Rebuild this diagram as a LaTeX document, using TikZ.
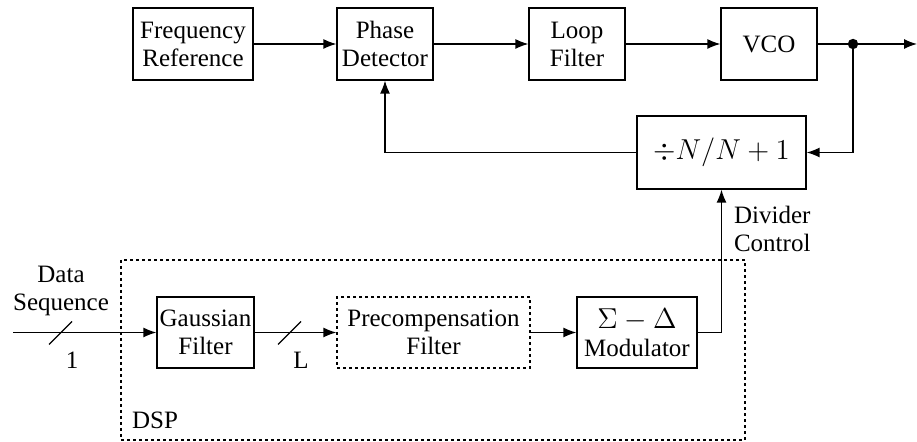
\documentclass[tikz,border=0pt]{standalone}
\usepackage{fontspec}
\setmainfont{Liberation Serif}
\usetikzlibrary{arrows.meta,calc}
\begin{document}
\begin{tikzpicture}[x=0.5pt,y=-0.5pt,
  font=\rmfamily\fontsize{12.5}{14}\selectfont,
  blk/.style={draw,line width=0.6pt,inner sep=0pt,align=center,minimum height=36pt},
  dashblk/.style={blk,dash pattern=on 1.5pt off 1.5pt},
  conn/.style={line width=0.65pt},
  arr/.style={conn,-{Latex[length=6.5pt,width=5pt]}},
  bus/.style={line width=0.65pt}]
\useasboundingbox (0,0) rectangle (917,442);

% PLL loop
\node[blk,minimum width=60pt] (fref) at (193,44) {Frequency\\Reference};
\node[blk,minimum width=48pt] (pd) at (385,44) {Phase\\Detector};
\node[blk,minimum width=48pt] (lf) at (577,44) {Loop\\Filter};
\node[blk,minimum width=48pt] (vco) at (769,44) {VCO};
\node[blk,minimum width=84.5pt,minimum height=36.5pt] (div) at (721.5,152.5)
  {\fontsize{14.5}{16}\selectfont$\div N/N+1$};
\coordinate (tap) at (853,44);
\coordinate (out) at (917,44);

\draw[arr] (fref.east) -- (pd.west);
\draw[arr] (pd.east) -- (lf.west);
\draw[arr] (lf.east) -- (vco.west);
\draw[arr] (vco.east) -- (out);
\fill (tap) circle (2.6pt);
\draw[arr] (tap) |- (div.east);
\draw[arr] (div.west) -| (pd.south);

% DSP section
\draw[line width=0.6pt,dash pattern=on 1.5pt off 1.5pt] (121,260) rectangle (745,440);
\node (dsp) at (155,420) {DSP};
\node[blk,minimum width=48.5pt,minimum height=35.5pt] (gf) at (205.5,332.5) {Gaussian\\Filter};
\node[dashblk,minimum width=96.5pt,minimum height=35.5pt] (pc) at (433.5,332.5) {Precompensation\\Filter};
\node[blk,minimum width=60pt,minimum height=35.5pt] (sd) at (637,332.5)
  {{\fontsize{14.5}{14}\selectfont$\Sigma-\Delta$}\\Modulator};

\coordinate (in) at (13,332.5);
\node[align=center] (dseq) at (61,291) {Data\\Sequence};
\node (one) at (72,360) {1};
\node (ell) at (301,360) {L};
\node[anchor=west,align=left] (dctl) at (727,229) {Divider\\Control};

\draw[arr] (in) -- (gf.west);
\draw[arr] (gf.east) -- (pc.west);
\draw[arr] (pc.east) -- (sd.west);
\draw[arr] (sd.east) -| (div.south);

% bus-width slashes
\draw[bus] (49,344.5) coordinate (s1a) -- ++(23,-23) coordinate (s1b);
\draw[bus] (278,344.5) coordinate (s2a) -- ++(23,-23) coordinate (s2b);
\end{tikzpicture}
\end{document}
